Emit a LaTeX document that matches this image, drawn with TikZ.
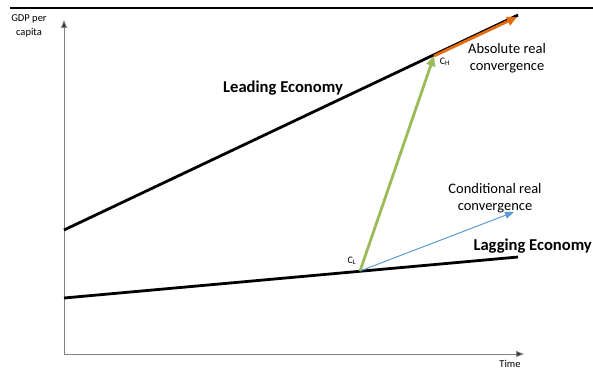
\documentclass[tikz,border=0pt]{standalone}
\usepackage{fontspec}
\setmainfont{Carlito}
\usetikzlibrary{arrows.meta}
\definecolor{axisgray}{RGB}{128,128,128}
\definecolor{convgreen}{RGB}{155,187,89}
\definecolor{convblue}{RGB}{91,155,213}
\definecolor{convorange}{RGB}{228,108,10}
\tikzset{
  axisline/.style={draw=axisgray, line width=0.9pt, -{Triangle[length=8pt,width=6pt,fill=black!80]}},
  economy/.style={draw=black, line width=2.8pt},
  label/.style={font=\fontsize{14.5}{17.5}\selectfont, align=center, inner sep=0pt},
  biglabel/.style={font=\bfseries\fontsize{16.6}{19}\selectfont, inner sep=0pt},
  small/.style={font=\fontsize{10.5}{14}\selectfont, align=center, inner sep=0pt},
  pt/.style={font=\fontsize{10}{11}\selectfont, inner sep=0pt}
}
\begin{document}
\begin{tikzpicture}[x=1pt,y=-1pt]
\useasboundingbox (0,0) rectangle (593,369);
% top rule
\coordinate (ruleL) at (10,8);
\coordinate (ruleR) at (593,8);
\draw[line width=1.3pt] (ruleL) -- (ruleR);
% axes
\coordinate (origin) at (64,354);
\coordinate (ytop) at (64,20);
\coordinate (xend) at (524,354);
\draw[axisline] (origin) -- (ytop);
\draw[axisline] (origin) -- (xend);
\node[small] (ylab) at (29,26) {GDP per\\capita};
\node[small, anchor=south] (xlab) at (510,368) {Time};
% economies
\coordinate (leadS) at (64,230);
\coordinate (leadE) at (518,15);
\coordinate (lagS) at (64,298);
\coordinate (lagE) at (518,257);
\draw[economy] (leadS) -- (leadE);
\draw[economy] (lagS) -- (lagE);
% key points
\coordinate (CL) at (360,271);
\coordinate (CH) at (434,56);
\coordinate (orangeEnd) at (517,17);
\coordinate (blueEnd) at (514,212);
% arrows
\draw[draw=convorange, line width=2.8pt, -{Triangle[length=10pt,width=9pt]}] (CH) -- (orangeEnd);
\draw[draw=convgreen, line width=2.8pt, -{Triangle[length=10pt,width=9pt]}] (CL) -- (CH);
\draw[draw=convblue, line width=1pt, -{Triangle[length=9pt,width=7pt]}] (CL) -- (blueEnd);
% labels
\node[biglabel] (leadlab) at (283,88) {Leading Economy};
\node[biglabel, anchor=east] (laglab) at (592,246) {Lagging Economy};
\node[label] (abslab) at (507,58) {Absolute real\\convergence};
\node[label] (condlab) at (495,198) {Conditional real\\convergence};
\node[pt] (chlab) at (445,62) {C\textsubscript{H}};
\node[pt] (cllab) at (352,261) {C\textsubscript{L}};
\end{tikzpicture}
\end{document}
